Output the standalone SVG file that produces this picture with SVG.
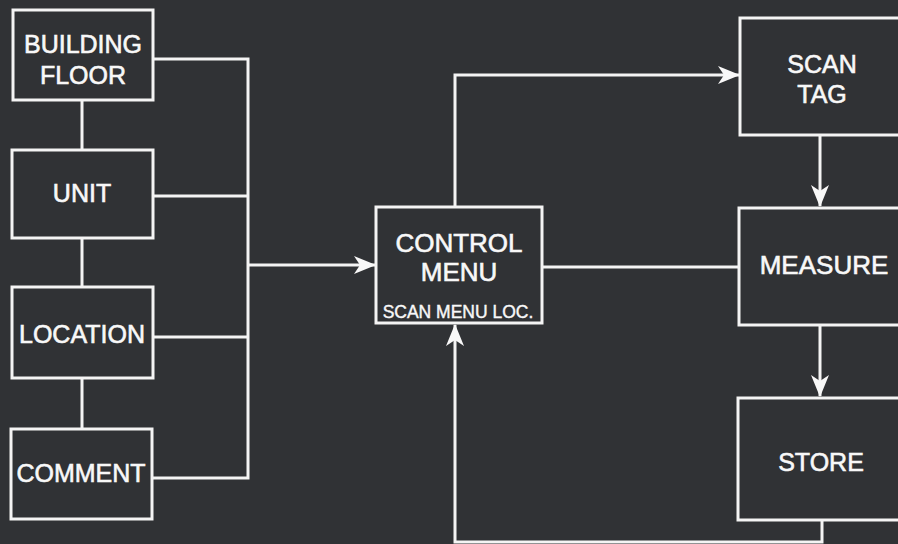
<svg xmlns="http://www.w3.org/2000/svg" width="898" height="544" viewBox="0 0 898 544">
<defs>
<style>
.box{fill:none;stroke:#f4f4f4;stroke-width:3}
.ln{fill:none;stroke:#f4f4f4;stroke-width:3}
.t{fill:#f8f8f8;stroke:#f8f8f8;stroke-width:0.6;font-family:"Liberation Sans",Arial,sans-serif;font-size:25px;text-anchor:middle}
.s{fill:#f8f8f8;stroke:#f8f8f8;stroke-width:0.4;font-family:"Liberation Sans",Arial,sans-serif;font-size:17.5px;text-anchor:middle}
</style>
<marker id="ah" viewBox="0 0 22 18" refX="21" refY="9" markerWidth="22" markerHeight="18" markerUnits="userSpaceOnUse" orient="auto">
<path d="M0,0 L22,9 L0,18 L6,9 Z" fill="#f8f8f8"/>
</marker>
</defs>
<rect width="898" height="544" fill="#303235"/>
<g id="connectors">
<path class="ln" d="M82,100 V150 M82,238 V287 M82,378 V429"/>
<path class="ln" d="M153,59 H248 V478 H152 M153,196 H248 M153,337 H248"/>
<path class="ln" d="M248,265 H375" marker-end="url(#ah)"/>
<path class="ln" d="M455,207 V75 H739" marker-end="url(#ah)"/>
<path class="ln" d="M542,267 H738"/>
<path class="ln" d="M820,135 V206" marker-end="url(#ah)"/>
<path class="ln" d="M820,325 V396" marker-end="url(#ah)"/>
<path class="ln" d="M822,520 V542 H455 V325" marker-end="url(#ah)"/>
</g>
<g id="building-floor">
<rect class="box" x="13" y="10" width="140" height="90"/>
<text class="t" x="83" y="53">BUILDING</text>
<text class="t" x="83" y="84">FLOOR</text>
</g>
<g id="unit">
<rect class="box" x="12" y="150" width="141" height="88"/>
<text class="t" x="82" y="202">UNIT</text>
</g>
<g id="location">
<rect class="box" x="12" y="287" width="141" height="91"/>
<text class="t" x="82" y="343">LOCATION</text>
</g>
<g id="comment">
<rect class="box" x="11" y="429" width="141" height="90"/>
<text class="t" x="81" y="482">COMMENT</text>
</g>
<g id="control-menu">
<rect class="box" x="376" y="207" width="166" height="116"/>
<text class="t" x="459" y="252" style="font-size:26px">CONTROL</text>
<text class="t" x="459" y="281" style="font-size:26px">MENU</text>
<text class="s" x="458" y="318">SCAN MENU LOC.</text>
</g>
<g id="scan-tag">
<rect class="box" x="740" y="18" width="170" height="117"/>
<text class="t" x="822" y="73">SCAN</text>
<text class="t" x="822" y="103">TAG</text>
</g>
<g id="measure">
<rect class="box" x="739" y="208" width="171" height="117"/>
<text class="t" x="824" y="274" style="font-size:26px">MEASURE</text>
</g>
<g id="store">
<rect class="box" x="738" y="398" width="172" height="122"/>
<text class="t" x="821" y="471">STORE</text>
</g>
</svg>
